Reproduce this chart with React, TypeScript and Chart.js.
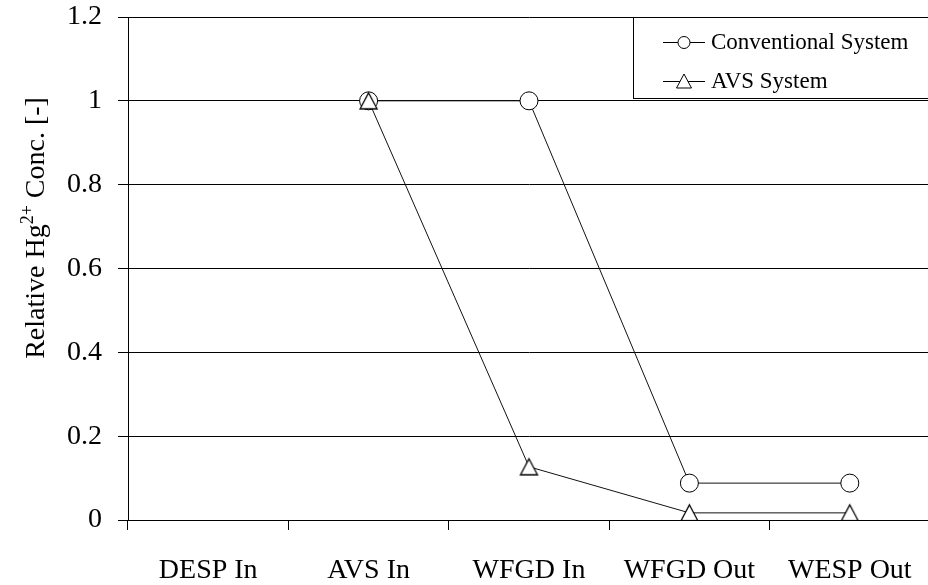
import React, { useEffect, useRef } from 'react';
import { Chart, registerables } from 'chart.js';

Chart.register(...registerables);

const categories = ['DESP In', 'AVS In', 'WFGD In', 'WFGD Out', 'WESP Out'];
const conventionalSystem = [null, 1, 1, 0.088, 0.088];
const avsSystem = [null, 1, 0.127, 0.017, 0.017];
const seriesNames = ['Conventional System', 'AVS System'];
const yMin = 0;
const yMax = 1.2;
const yStep = 0.2;

const FONT = '"Liberation Serif", "Times New Roman", Times, serif';

function makeTriangle(w: number, h: number): HTMLCanvasElement {
  const c = document.createElement('canvas');
  c.width = w + 4;
  c.height = h + 4;
  const ctx = c.getContext('2d')!;
  const cx = c.width / 2;
  ctx.beginPath();
  ctx.moveTo(cx, 2);
  ctx.lineTo(cx + w / 2, 2 + h);
  ctx.lineTo(cx - w / 2, 2 + h);
  ctx.closePath();
  ctx.fillStyle = '#ffffff';
  ctx.fill();
  ctx.strokeStyle = '#000000';
  ctx.lineWidth = 1.3;
  ctx.stroke();
  return c;
}

const yTitlePlugin = {
  id: 'yTitle',
  afterDraw(chart: any) {
    const ctx = chart.ctx as CanvasRenderingContext2D;
    ctx.save();
    ctx.fillStyle = '#000';
    const p1 = 'Relative Hg';
    const sup = '2+';
    const p2 = ' Conc. [-]';
    ctx.font = `28px ${FONT}`;
    const w1 = ctx.measureText(p1).width;
    const w2 = ctx.measureText(p2).width;
    ctx.font = `18px ${FONT}`;
    const ws = ctx.measureText(sup).width;
    const total = w1 + ws + w2;
    ctx.translate(44, 228);
    ctx.rotate(-Math.PI / 2);
    ctx.textBaseline = 'alphabetic';
    ctx.textAlign = 'left';
    let x = -total / 2;
    ctx.font = `28px ${FONT}`;
    ctx.fillText(p1, x, 0);
    x += w1;
    ctx.font = `18px ${FONT}`;
    ctx.fillText(sup, x, -11);
    x += ws;
    ctx.font = `28px ${FONT}`;
    ctx.fillText(p2, x, 0);
    ctx.restore();
  },
};

const legendPlugin = {
  id: 'boxLegend',
  afterDraw(chart: any) {
    const ctx = chart.ctx as CanvasRenderingContext2D;
    const left = 633.5;
    const top = Math.round(chart.chartArea.top) + 0.5;
    ctx.save();
    ctx.fillStyle = '#fff';
    ctx.fillRect(left, top, 320, 81);
    ctx.strokeStyle = '#000';
    ctx.lineWidth = 1;
    ctx.strokeRect(left, top, 320, 81);
    const y1 = 42.5;
    ctx.beginPath();
    ctx.moveTo(663, y1);
    ctx.lineTo(705, y1);
    ctx.stroke();
    ctx.beginPath();
    ctx.arc(684, y1, 6, 0, Math.PI * 2);
    ctx.fillStyle = '#fff';
    ctx.fill();
    ctx.stroke();
    const y2 = 81.5;
    ctx.beginPath();
    ctx.moveTo(663, y2);
    ctx.lineTo(705, y2);
    ctx.stroke();
    ctx.beginPath();
    ctx.moveTo(684, y2 - 7.5);
    ctx.lineTo(691.5, y2 + 6.5);
    ctx.lineTo(676.5, y2 + 6.5);
    ctx.closePath();
    ctx.fillStyle = '#fff';
    ctx.fill();
    ctx.stroke();
    ctx.fillStyle = '#000';
    ctx.font = `23px ${FONT}`;
    ctx.textBaseline = 'alphabetic';
    ctx.textAlign = 'left';
    ctx.fillText(seriesNames[0], 711, 49);
    ctx.fillText(seriesNames[1], 711, 88);
    ctx.restore();
  },
};

export default function App() {
  const canvasRef = useRef<HTMLCanvasElement | null>(null);

  useEffect(() => {
    const canvas = canvasRef.current;
    if (!canvas) return;
    const tri = makeTriangle(17, 16);
    const chart = new Chart(canvas, {
      type: 'line',
      data: {
        labels: categories,
        datasets: [
          {
            label: seriesNames[0],
            data: conventionalSystem,
            order: 1,
            borderColor: '#111',
            borderWidth: 1,
            pointStyle: 'circle',
            pointRadius: 9,
            pointBorderWidth: 1,
            pointBorderColor: '#000',
            pointBackgroundColor: '#fff',
            tension: 0,
            fill: false,
          },
          {
            label: seriesNames[1],
            data: avsSystem,
            order: 0,
            borderColor: '#111',
            borderWidth: 1,
            pointStyle: tri as any,
            pointRadius: 9,
            pointBorderWidth: 1,
            pointBorderColor: '#000',
            pointBackgroundColor: '#fff',
            tension: 0,
            fill: false,
          },
        ],
      },
      options: {
        animation: false,
        responsive: false,
        devicePixelRatio: 1,
        events: [],
        layout: { padding: { left: 0, top: 17, right: 4, bottom: 0 } },
        plugins: {
          legend: { display: false },
          tooltip: { enabled: false },
          title: { display: false },
        },
        scales: {
          x: {
            type: 'category',
            offset: true,
            grid: {
              offset: true,
              drawOnChartArea: false,
              drawTicks: true,
              tickLength: 10,
              color: '#000',
              lineWidth: 1,
            },
            border: { display: true, color: '#000', width: 1 },
            ticks: {
              font: { family: FONT, size: 28 },
              color: '#000',
              padding: 24,
              maxRotation: 0,
              autoSkip: false,
            },
            afterFit(scale: any) {
              scale.height = 65;
              scale.paddingLeft = 0;
              scale.paddingRight = 0;
            },
          },
          y: {
            type: 'linear',
            min: yMin,
            max: yMax,
            grid: {
              color: '#000',
              lineWidth: 1,
              drawTicks: true,
              tickLength: 10,
            },
            border: { display: true, color: '#000', width: 1 },
            ticks: {
              stepSize: yStep,
              font: { family: FONT, size: 28 },
              color: '#000',
              padding: 16,
              callback: (v: any) => String(Math.round(Number(v) * 10) / 10),
            },
            afterFit(scale: any) {
              scale.width = 128;
              scale.paddingTop = 0;
              scale.paddingBottom = 0;
            },
          },
        },
      },
      plugins: [yTitlePlugin, legendPlugin],
    });
    return () => chart.destroy();
  }, []);

  return (
    <div
      style={{
        position: 'fixed',
        left: 0,
        top: 0,
        width: 928,
        height: 585,
        overflow: 'hidden',
        background: '#fff',
      }}
    >
      <canvas ref={canvasRef} width={940} height={585} style={{ display: 'block' }} />
    </div>
  );
}
